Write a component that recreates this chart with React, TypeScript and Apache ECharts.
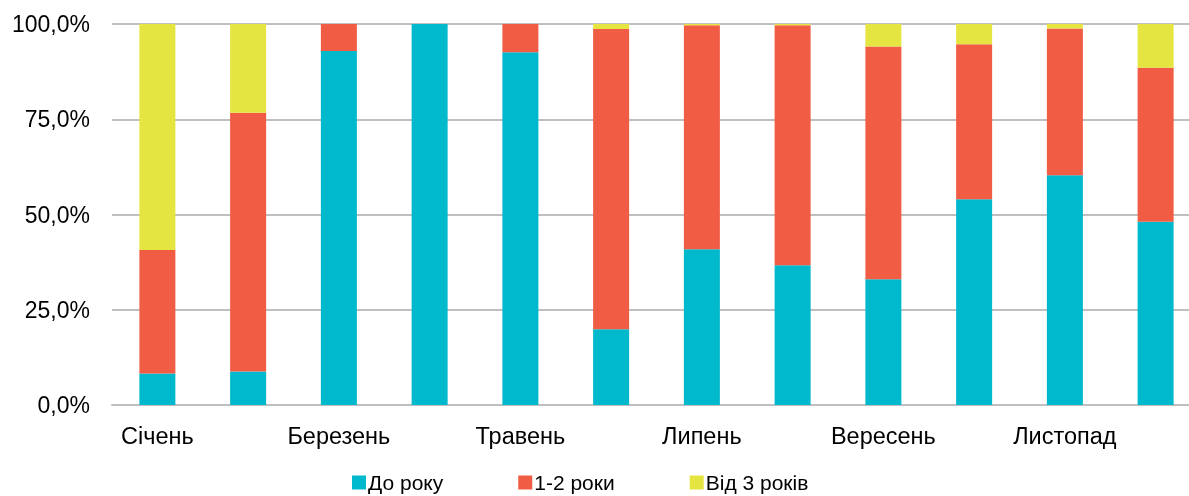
import React, { useEffect, useRef } from "react";
import * as echarts from "echarts";

const months = ["Січень", "Лютий", "Березень", "Квітень", "Травень", "Червень", "Липень", "Серпень", "Вересень", "Жовтень", "Листопад", "Грудень"];
const seriesNames = ["До року", "1-2 роки", "Від 3 років"];
const underYear = [8.3, 8.8, 92.9, 100, 92.6, 19.9, 40.9, 36.7, 33.0, 54.0, 60.3, 48.1];
const oneTwoYears = [32.4, 67.9, 7.1, 0, 7.4, 78.8, 58.8, 63.0, 61.1, 40.7, 38.5, 40.4];
const threePlus = [59.3, 23.3, 0, 0, 0, 1.3, 0.3, 0.3, 5.9, 5.3, 1.2, 11.5];
const yTicks = [0, 25, 50, 75, 100];

const colors = ["#00B9CD", "#F15C45", "#E5E541"];

export default function App() {
  const ref = useRef<HTMLDivElement>(null);
  useEffect(() => {
    if (!ref.current) return;
    const chart = echarts.init(ref.current, undefined, { renderer: "svg" });
    const font = "'Liberation Sans', Arial, sans-serif";
    const data = [underYear, oneTwoYears, threePlus];
    chart.setOption({
      animation: false,
      textStyle: { fontFamily: font },
      grid: { left: 112, right: 0, top: 24, bottom: 91, containLabel: false },
      legend: {
        bottom: -2,
        left: 347,
        itemWidth: 14,
        itemHeight: 14,
        itemGap: 75,
        icon: "rect",
        data: seriesNames,
        textStyle: { fontSize: 21, color: "#000", fontFamily: font, padding: [0, 0, 0, -3] },
      },
      xAxis: {
        type: "category",
        data: months,
        axisTick: { show: false },
        axisLine: { lineStyle: { color: "#BFBFBF", width: 2 } },
        axisLabel: { interval: 1, fontSize: 23.5, color: "#000", margin: 19, fontFamily: font },
      },
      yAxis: {
        type: "value",
        min: 0,
        max: 100,
        interval: 25,
        axisLine: { show: false },
        axisTick: { show: false },
        splitLine: { lineStyle: { color: "#BFBFBF", width: 2 } },
        axisLabel: {
          fontSize: 23,
          color: "#000",
          margin: 22,
          fontFamily: font,
          formatter: (v: number) => (yTicks.includes(v) ? v.toFixed(1).replace(".", ",") + "%" : ""),
        },
      },
      series: seriesNames.map((name, i) => ({
        name,
        type: "bar",
        stack: "total",
        barWidth: 36,
        data: data[i],
        itemStyle: { color: colors[i] },
      })),
    });
    return () => chart.dispose();
  }, []);
  return (
    <div style={{ position: "fixed", left: 0, top: 0, width: 1189, height: 496, overflow: "hidden" }}>
      <div ref={ref} style={{ width: 1201, height: 496 }} />
    </div>
  );
}
